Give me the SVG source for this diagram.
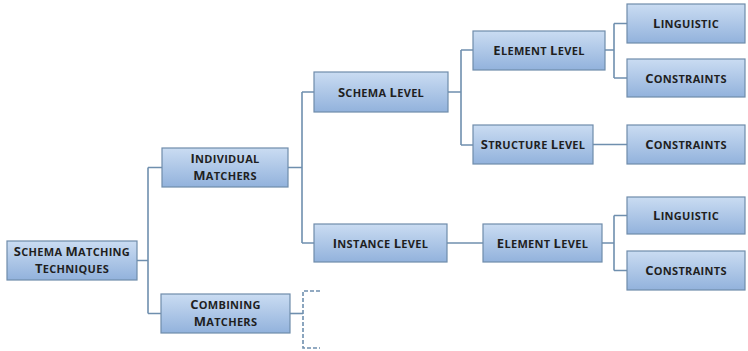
<svg xmlns="http://www.w3.org/2000/svg" width="748" height="351" viewBox="0 0 748 351">
  <defs>
    <linearGradient id="boxFill" x1="0" y1="0" x2="0" y2="1">
      <stop offset="0" stop-color="#cadcf2"/>
      <stop offset="1" stop-color="#92b2dc"/>
    </linearGradient>
    <style>
      .box { fill: url(#boxFill); stroke: #6f8cab; stroke-width: 1.2; }
      .lbl { font-family: "Open Sans", "DejaVu Sans", sans-serif; font-weight: bold; fill: #1f1f1f; text-anchor: middle; letter-spacing: 0.3px; }
      .cap { font-size: 13px; }
      .sc { font-size: 11px; }
      .link { fill: none; stroke: #6f8fae; stroke-width: 1.6; }
      .dash { stroke-dasharray: 4 2; }
    </style>
  </defs>

  <rect width="748" height="351" fill="#ffffff"/>

  <!-- connectors -->
  <g id="connectors">
    <path class="link" d="M137,260.5 H148 M148,167.5 V313.5 M148,167.5 H162 M148,313.5 H161"/>
    <path class="link" d="M288,167.5 H302 M302,92 V243 M302,92 H314 M302,243 H314"/>
    <path class="link" d="M290,313.5 H303"/>
    <path class="link dash" d="M320,291 H303 V348 H320"/>
    <path class="link" d="M448,92 H461 M461,50 V145 M461,50 H473 M461,145 H473"/>
    <path class="link" d="M605,50 H614 M614,23.5 V78 M614,23.5 H627 M614,78 H627"/>
    <path class="link" d="M593,144.5 H627"/>
    <path class="link" d="M447,243 H483"/>
    <path class="link" d="M602,243 H614 M614,215.5 V270.5 M614,215.5 H627 M614,270.5 H627"/>
  </g>

  <g id="schema-matching-techniques">
    <rect class="box" x="7" y="241" width="130" height="39"/>
    <text class="lbl" x="72" y="256"><tspan class="cap">S</tspan><tspan class="sc">CHEMA </tspan><tspan class="cap">M</tspan><tspan class="sc">ATCHING</tspan></text>
    <text class="lbl" x="72" y="272.5"><tspan class="cap">T</tspan><tspan class="sc">ECHNIQUES</tspan></text>
  </g>

  <g id="individual-matchers">
    <rect class="box" x="162" y="148" width="126" height="39"/>
    <text class="lbl" x="225" y="163"><tspan class="cap">I</tspan><tspan class="sc">NDIVIDUAL</tspan></text>
    <text class="lbl" x="225" y="179.5"><tspan class="cap">M</tspan><tspan class="sc">ATCHERS</tspan></text>
  </g>

  <g id="combining-matchers">
    <rect class="box" x="161" y="294" width="129" height="39"/>
    <text class="lbl" x="225.5" y="309"><tspan class="cap">C</tspan><tspan class="sc">OMBINING</tspan></text>
    <text class="lbl" x="225.5" y="325.5"><tspan class="cap">M</tspan><tspan class="sc">ATCHERS</tspan></text>
  </g>

  <g id="schema-level">
    <rect class="box" x="314" y="72" width="134" height="40"/>
    <text class="lbl" x="381" y="96.5"><tspan class="cap">S</tspan><tspan class="sc">CHEMA </tspan><tspan class="cap">L</tspan><tspan class="sc">EVEL</tspan></text>
  </g>

  <g id="instance-level">
    <rect class="box" x="314" y="224" width="133" height="38"/>
    <text class="lbl" x="380.5" y="247.5"><tspan class="cap">I</tspan><tspan class="sc">NSTANCE </tspan><tspan class="cap">L</tspan><tspan class="sc">EVEL</tspan></text>
  </g>

  <g id="schema-element-level">
    <rect class="box" x="473" y="31" width="132" height="39"/>
    <text class="lbl" x="539" y="55"><tspan class="cap">E</tspan><tspan class="sc">LEMENT </tspan><tspan class="cap">L</tspan><tspan class="sc">EVEL</tspan></text>
  </g>

  <g id="structure-level">
    <rect class="box" x="473" y="125" width="120" height="39"/>
    <text class="lbl" x="533" y="149"><tspan class="cap">S</tspan><tspan class="sc">TRUCTURE </tspan><tspan class="cap">L</tspan><tspan class="sc">EVEL</tspan></text>
  </g>

  <g id="instance-element-level">
    <rect class="box" x="483" y="224" width="119" height="38"/>
    <text class="lbl" x="542.5" y="247.5"><tspan class="cap">E</tspan><tspan class="sc">LEMENT </tspan><tspan class="cap">L</tspan><tspan class="sc">EVEL</tspan></text>
  </g>

  <g id="schema-linguistic">
    <rect class="box" x="627" y="4" width="118" height="39"/>
    <text class="lbl" x="686" y="28"><tspan class="cap">L</tspan><tspan class="sc">INGUISTIC</tspan></text>
  </g>

  <g id="schema-constraints">
    <rect class="box" x="627" y="59" width="118" height="38"/>
    <text class="lbl" x="686" y="82.5"><tspan class="cap">C</tspan><tspan class="sc">ONSTRAINTS</tspan></text>
  </g>

  <g id="structure-constraints">
    <rect class="box" x="627" y="125" width="118" height="39"/>
    <text class="lbl" x="686" y="149"><tspan class="cap">C</tspan><tspan class="sc">ONSTRAINTS</tspan></text>
  </g>

  <g id="instance-linguistic">
    <rect class="box" x="627" y="197" width="118" height="37"/>
    <text class="lbl" x="686" y="220"><tspan class="cap">L</tspan><tspan class="sc">INGUISTIC</tspan></text>
  </g>

  <g id="instance-constraints">
    <rect class="box" x="627" y="251" width="118" height="39"/>
    <text class="lbl" x="686" y="275"><tspan class="cap">C</tspan><tspan class="sc">ONSTRAINTS</tspan></text>
  </g>
</svg>
